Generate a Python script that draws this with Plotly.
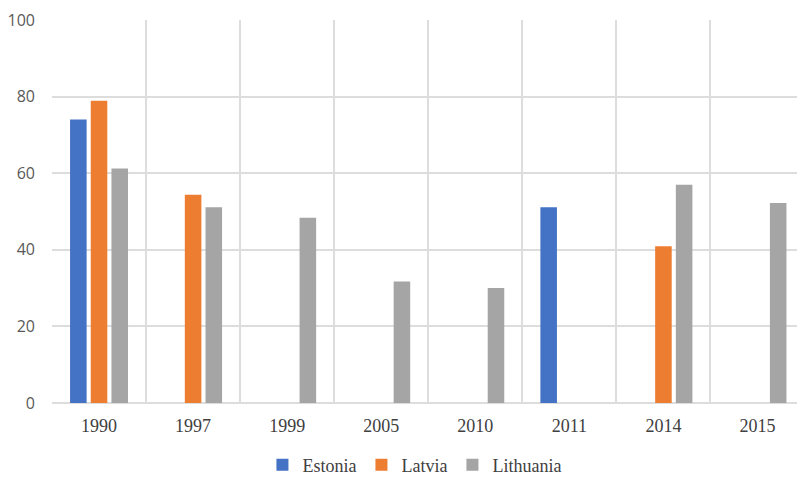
import plotly.graph_objects as go

years = ["1990", "1997", "1999", "2005", "2010", "2011", "2014", "2015"]
estonia = [74.0, None, None, None, None, 51.1, None, None]
latvia = [78.9, 54.4, None, None, None, None, 40.9, None]
lithuania = [61.2, 51.1, 48.4, 31.7, 30.0, None, 57.0, 52.2]

series = [
    ("Estonia", estonia, "#4472C4"),
    ("Latvia", latvia, "#ED7D31"),
    ("Lithuania", lithuania, "#A5A5A5"),
]

fig = go.Figure()
for name, vals, color in series:
    fig.add_trace(go.Bar(x=years, y=vals, name=name, marker=dict(color=color, line=dict(width=0))))

grid = "#DDDDDD"
fig.update_layout(
    width=797, height=477,
    margin=dict(l=52, r=0, t=20, b=74, autoexpand=False),
    paper_bgcolor="white", plot_bgcolor="white",
    barmode="group", bargap=0.34, bargroupgap=0.2,
    showlegend=True,
    legend=dict(orientation="h", x=0.52, xref="container", xanchor="center",
                y=0.025, yref="container", yanchor="middle",
                font=dict(family="Liberation Serif", size=18, color="#404040"),
                itemwidth=30, traceorder="normal"),
    xaxis=dict(
        type="category", range=[-0.5, 7.42],
        tickson="boundaries", showgrid=True, gridcolor=grid, gridwidth=2,
        ticks="", showline=False, zeroline=False, ticklabelstandoff=10,
        tickfont=dict(family="Liberation Serif", size=18, color="#404040"),
    ),
    yaxis=dict(
        range=[0, 100], dtick=20, showgrid=True, gridcolor=grid, gridwidth=2,
        zeroline=True, zerolinecolor=grid, zerolinewidth=2,
        showline=False, ticks="", ticklabelstandoff=16,
        tickfont=dict(family="Open Sans", size=16, color="#595959"),
    ),
)

fig.write_html("out.html")
